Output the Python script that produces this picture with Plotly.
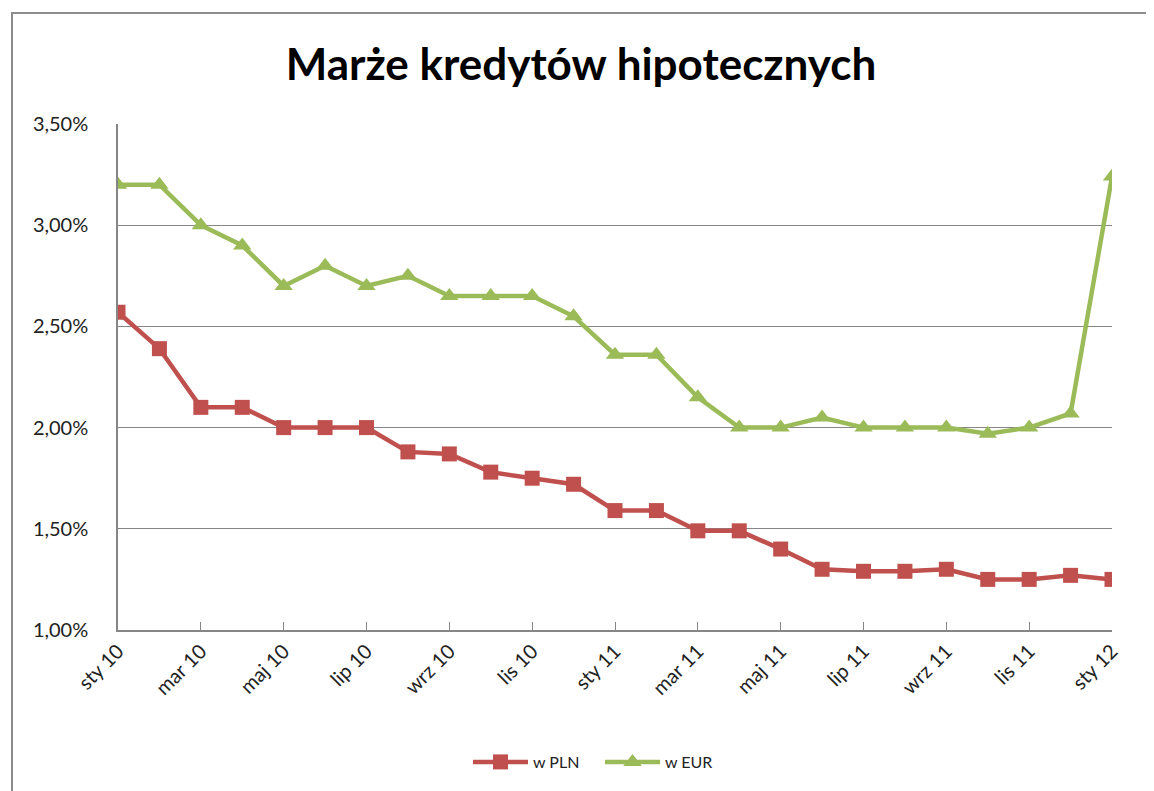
import plotly.graph_objects as go

months = ["sty 10", "lut 10", "mar 10", "kwi 10", "maj 10", "cze 10", "lip 10", "sie 10",
          "wrz 10", "paź 10", "lis 10", "gru 10", "sty 11", "lut 11", "mar 11", "kwi 11",
          "maj 11", "cze 11", "lip 11", "sie 11", "wrz 11", "paź 11", "lis 11", "gru 11", "sty 12"]
pln = [2.57, 2.39, 2.10, 2.10, 2.00, 2.00, 2.00, 1.88, 1.87, 1.78, 1.75, 1.72, 1.59, 1.59,
       1.49, 1.49, 1.40, 1.30, 1.29, 1.29, 1.30, 1.25, 1.25, 1.27, 1.25]
eur = [3.20, 3.20, 3.00, 2.90, 2.70, 2.80, 2.70, 2.75, 2.65, 2.65, 2.65, 2.55, 2.36, 2.36,
       2.15, 2.00, 2.00, 2.05, 2.00, 2.00, 2.00, 1.97, 2.00, 2.07, 3.24]
tick_labels = months[::2]
y_ticks = [1.00, 1.50, 2.00, 2.50, 3.00, 3.50]
y_tick_text = ["1,00%", "1,50%", "2,00%", "2,50%", "3,00%", "3,50%"]

OFF = 8  # page body margin
W, H = 1154 - OFF, 791 - OFF
L, R, T, B = 118 - OFF, 1112 - OFF, 124 - OFF, 630 - OFF

fig = go.Figure()
fig.add_trace(go.Scatter(x=months, y=pln, name="w PLN", mode="lines+markers",
                         line=dict(color="#C0504D", width=4.5),
                         marker=dict(symbol="square", size=15, color="#C0504D")))
fig.add_trace(go.Scatter(x=months, y=eur, name="w EUR", mode="lines+markers",
                         line=dict(color="#9BBB59", width=4.5),
                         marker=dict(symbol="triangle-up", size=16, color="#9BBB59")))

def px_x(p):
    return (p - OFF - L) / (R - L)

def px_y(p):
    return (B - (p - OFF)) / (B - T)

fig.add_shape(type="rect", xref="paper", yref="paper",
              x0=px_x(12), x1=px_x(1250), y0=px_y(900), y1=px_y(13),
              line=dict(color="#8c8c8c", width=2), fillcolor="rgba(0,0,0,0)", layer="below")

fig.update_layout(
    width=W, height=H,
    margin=dict(l=L, r=W - R, t=T, b=H - B, pad=0),
    paper_bgcolor="white", plot_bgcolor="white",
    font=dict(family="Lato, Open Sans, sans-serif", color="#1a1a1a"),
    title=dict(text="<b>Marże kredytów hipotecznych</b>", x=0.5, xanchor="center",
               y=1 - (65 - OFF) / H, yanchor="middle", font=dict(size=44, color="black")),
    showlegend=True,
    legend=dict(orientation="h", x=px_x(468), xanchor="left", y=px_y(762), yanchor="middle",
                font=dict(size=16, color="#222"), itemwidth=55,
                entrywidth=62, entrywidthmode="pixels"),
    xaxis=dict(type="category", categoryorder="array", categoryarray=months,
               range=[0, len(months) - 1], tickmode="array", tickvals=tick_labels,
               ticktext=tick_labels, tickangle=-45, ticks="inside", ticklen=8,
               tickcolor="#868686", showline=True, linecolor="#868686", linewidth=1.5,
               showgrid=False, tickfont=dict(size=20, color="#222"), zeroline=False),
    yaxis=dict(range=[1.0, 3.5], tickmode="array", tickvals=y_ticks, ticktext=y_tick_text,
               showline=True, linecolor="#868686", linewidth=1.5, showgrid=True,
               gridcolor="#868686", gridwidth=1, ticks="", zeroline=False,
               tickfont=dict(size=20, color="#222"), ticklabelstandoff=24),
)

fig.write_html("out.html")
